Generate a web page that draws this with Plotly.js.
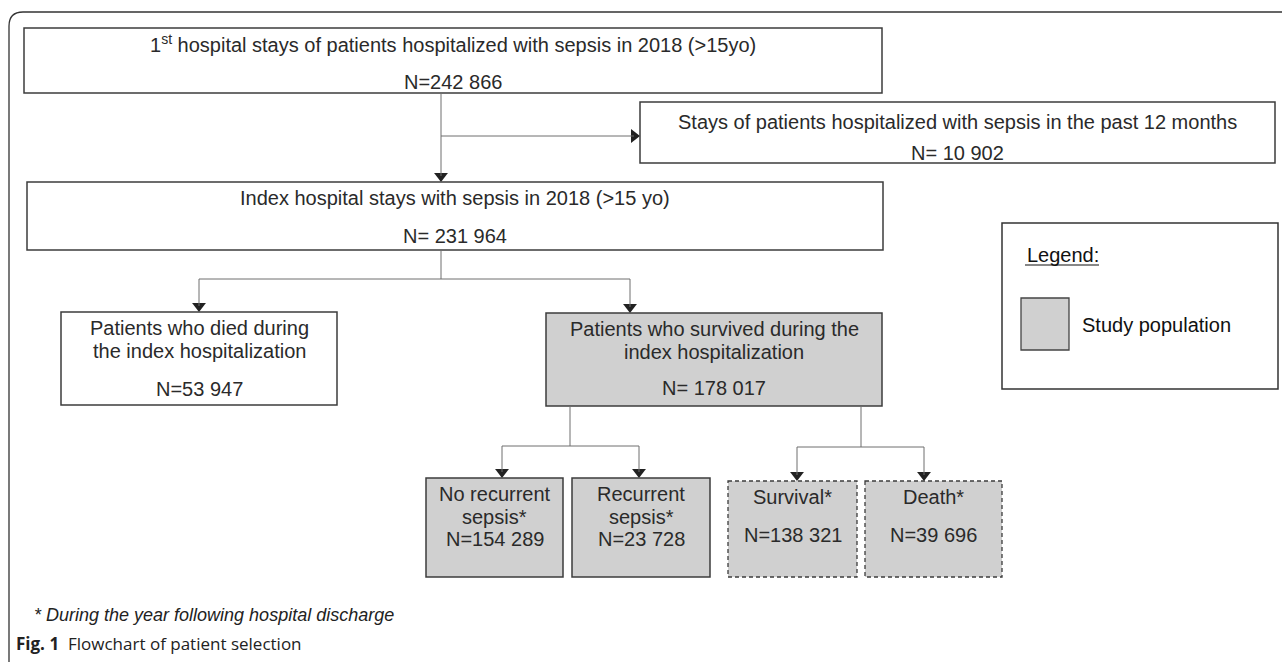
<!DOCTYPE html>
<html>
<head>
<meta charset="utf-8">
<script src="https://cdn.plot.ly/plotly-3.0.1.min.js"></script>
<style>
html, body { margin: 0; padding: 0; background: #ffffff; }
#chart { width: 1282px; height: 662px; }
</style>
</head>
<body>
<div id="chart"></div>
<script>
// ---------- DATA ----------
const boxTitles = [
  "1<sup>st</sup> hospital stays of patients hospitalized with sepsis in 2018 (>15yo)",
  "Stays of patients hospitalized with sepsis in the past 12 months",
  "Index hospital stays with sepsis in 2018 (>15 yo)",
  "Patients who died during<br>the index hospitalization",
  "Patients who survived during the<br>index hospitalization",
  "No recurrent<br>sepsis*",
  "Recurrent<br>sepsis*",
  "Survival*",
  "Death*"
];
const boxCounts = [242866, 10902, 231964, 53947, 178017, 154289, 23728, 138321, 39696];
const countPrefix = ["N=", "N= ", "N= ", "N=", "N= ", "N=", "N=", "N=", "N="];
const studyPopulation = [false, false, false, false, true, true, true, true, true];
const legendTitle = "Legend:";
const legendLabel = "Study population";
const footnote = "* During the year following hospital discharge";
const captionLabel = "Fig. 1";
const captionText = "Flowchart of patient selection";

// ---------- LAYOUT GEOMETRY (pixels) ----------
const boxGeom = [
  {x0: 24,  x1: 882,  y0: 28,  y1: 93,  titleY: [43],       countY: 82,  dash: false},
  {x0: 640, x1: 1275, y0: 102, y1: 163, titleY: [122],      countY: 153, dash: false},
  {x0: 27,  x1: 883,  y0: 182, y1: 250, titleY: [198],      countY: 236, dash: false},
  {x0: 61,  x1: 337,  y0: 312, y1: 405, titleY: [328, 351], countY: 389, dash: false},
  {x0: 546, x1: 882,  y0: 313, y1: 406, titleY: [329, 352], countY: 388, dash: false},
  {x0: 426, x1: 563,  y0: 478, y1: 577, titleY: [494, 517], countY: 539, dash: false},
  {x0: 572, x1: 710,  y0: 478, y1: 577, titleY: [494, 517], countY: 539, dash: false},
  {x0: 728, x1: 857,  y0: 481, y1: 577, titleY: [497],      countY: 535, dash: true},
  {x0: 865, x1: 1002, y0: 481, y1: 577, titleY: [497],      countY: 535, dash: true}
];
const connectorLines = [
  [441, 250, 441, 279], [199, 279, 630, 279],
  [570, 406, 570, 446], [502, 446, 639, 446],
  [861, 406, 861, 447], [797, 447, 924, 447]
];
// [tailX, tailY, tipX, tipY]
const arrowLinks = [
  [441, 93, 441, 182], [441, 136, 640, 136],
  [199, 279, 199, 312], [630, 279, 630, 313],
  [502, 446, 502, 478], [639, 446, 639, 478],
  [797, 447, 797, 481], [924, 447, 924, 481]
];

const W = 1282, H = 662;
const boxFontFamily = "Liberation Sans";
const textFont = {family: boxFontFamily, size: 20, color: "#2a2a2a"};
const borderColor = "#3c3c3c";
const greyFill = "#d0d0d0";
const connColor = "#6e6e6e";
const headSize = 12;

function fmt(n) {
  return String(n).replace(/\B(?=(\d{3})+(?!\d))/g, " ");
}

const shapes = [];
const annotations = [];

// outer frame with rounded top-left corner
shapes.push({type: "path", xref: "x", yref: "y",
  path: "M 9 662 L 9 26 Q 9 12 23 12 L 1282 12",
  line: {color: "#333333", width: 1.3}});

// boxes
boxGeom.forEach((g, i) => {
  shapes.push({type: "rect", xref: "x", yref: "y", x0: g.x0, x1: g.x1, y0: g.y0, y1: g.y1,
    fillcolor: studyPopulation[i] ? greyFill : "#ffffff",
    line: {color: borderColor, width: g.dash ? 1.3 : 1.5, dash: g.dash ? "4px,3px" : "solid"}});
  const cx = (g.x0 + g.x1) / 2;
  const lines = boxTitles[i].split("<br>");
  lines.forEach((t, k) => {
    annotations.push({x: cx, y: g.titleY[k], xref: "x", yref: "y", text: t, showarrow: false,
      xanchor: "center", yanchor: "middle", font: textFont});
  });
  annotations.push({x: cx, y: g.countY, xref: "x", yref: "y", text: countPrefix[i] + fmt(boxCounts[i]),
    showarrow: false, xanchor: "center", yanchor: "middle", font: textFont});
});

// connector lines
connectorLines.forEach(c => {
  shapes.push({type: "line", xref: "x", yref: "y", x0: c[0], y0: c[1], x1: c[2], y1: c[3],
    line: {color: connColor, width: 1}});
});

// arrow shafts + heads
const headX = [], headY = [], headSym = [];
const r = headSize / 2;
arrowLinks.forEach(a => {
  const dx = Math.sign(a[2] - a[0]), dy = Math.sign(a[3] - a[1]);
  const cx = a[2] - dx * r, cy = a[3] - dy * r;
  shapes.push({type: "line", xref: "x", yref: "y", x0: a[0], y0: a[1], x1: cx, y1: cy,
    line: {color: connColor, width: 1}});
  headX.push(cx);
  headY.push(cy);
  headSym.push(dx > 0 ? "triangle-right" : "triangle-down");
});

// legend box
shapes.push({type: "rect", xref: "x", yref: "y", x0: 1002, x1: 1278, y0: 223, y1: 389,
  fillcolor: "#ffffff", line: {color: "#333333", width: 1.5}});
shapes.push({type: "rect", xref: "x", yref: "y", x0: 1021, x1: 1069, y0: 298, y1: 350,
  fillcolor: greyFill, line: {color: "#444444", width: 1.3}});
annotations.push({x: 1025, y: 255, xref: "x", yref: "y", xanchor: "left", yanchor: "middle", showarrow: false,
  text: legendTitle, font: {family: "Liberation Sans", size: 20, color: "#111111"}});
shapes.push({type: "line", xref: "x", yref: "y", x0: 1025, x1: 1099, y0: 265, y1: 265,
  line: {color: "#111111", width: 1.2}});
annotations.push({x: 1080, y: 325, xref: "x", yref: "y", xanchor: "left", yanchor: "middle", showarrow: false,
  text: legendLabel, font: {family: "Liberation Sans", size: 20, color: "#111111"}});

// footnote and caption
annotations.push({x: 32, y: 615, xref: "x", yref: "y", xanchor: "left", yanchor: "middle", showarrow: false,
  text: "<i>" + footnote + "</i>", font: {family: "Liberation Sans", size: 18, color: "#222222"}});
annotations.push({x: 14, y: 643, xref: "x", yref: "y", xanchor: "left", yanchor: "middle", showarrow: false,
  text: "<b>" + captionLabel + "</b>", font: {family: "Open Sans", size: 17, color: "#222222"}});
annotations.push({x: 66, y: 643, xref: "x", yref: "y", xanchor: "left", yanchor: "middle", showarrow: false,
  text: captionText, font: {family: "Open Sans", size: 17, color: "#222222"}});

const heads = {
  type: "scatter", mode: "markers", x: headX, y: headY, hoverinfo: "skip",
  marker: {symbol: headSym, size: headSize, color: "#222222", line: {width: 0}}
};

const layout = {
  width: W, height: H,
  margin: {l: 0, r: 0, t: 0, b: 0, pad: 0},
  paper_bgcolor: "#ffffff", plot_bgcolor: "#ffffff",
  xaxis: {range: [0, W], visible: false, fixedrange: true},
  yaxis: {range: [H, 0], visible: false, fixedrange: true},
  showlegend: false,
  shapes: shapes,
  annotations: annotations
};

Plotly.newPlot("chart", [heads], layout, {staticPlot: true, displayModeBar: false});
</script>
</body>
</html>
